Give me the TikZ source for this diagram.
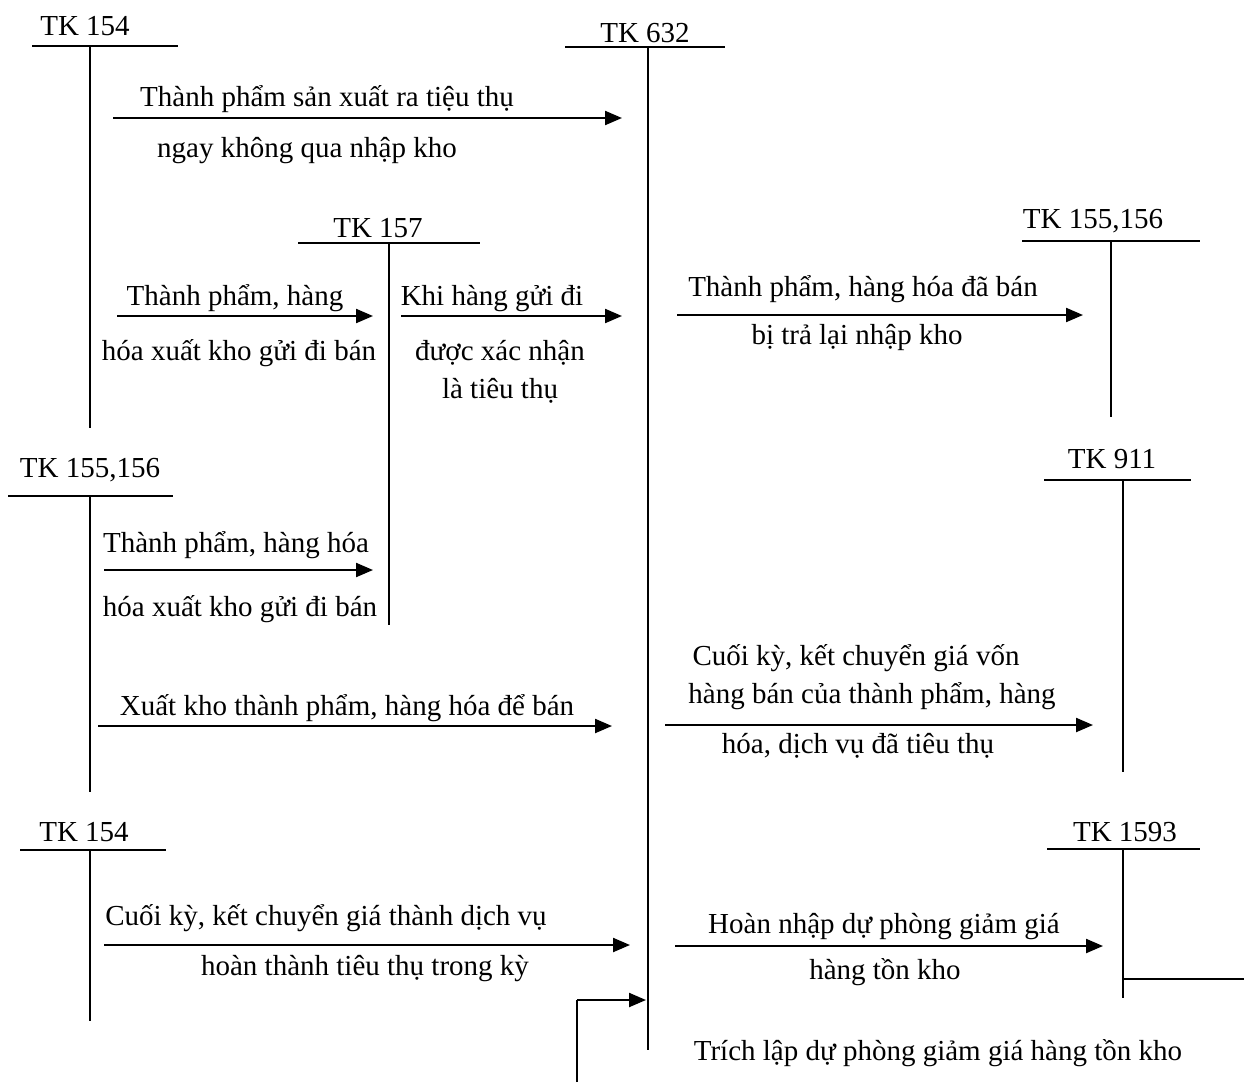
\documentclass[tikz,border=0pt]{standalone}
\usepackage{fontspec}
\setmainfont{Liberation Serif}
\usetikzlibrary{arrows.meta}
\begin{document}
\begin{tikzpicture}[x=1pt,y=-1pt,
  acct/.style={anchor=base,inner sep=0pt,font=\fontsize{29}{34}\selectfont},
  txt/.style={anchor=base,inner sep=0pt,font=\fontsize{29}{34}\selectfont},
  tline/.style={line width=2.2pt},
  flow/.style={line width=2.2pt,-{Triangle[length=17pt,width=14pt]}}]
\useasboundingbox (0,0) rectangle (1244,1090);

% ---------- T-accounts: title, top bar, vertical stem ----------
% TK 154 (upper)
\node[acct] (k154a) at (85,35) {TK 154};
\coordinate (k154aL) at (32,46);  \coordinate (k154aR) at (178,46);
\coordinate (k154aT) at (90,46);  \coordinate (k154aB) at (90,428);
\draw[tline] (k154aL) -- (k154aR);
\draw[tline] (k154aT) -- (k154aB);

% TK 632
\node[acct] (k632) at (645,42) {TK 632};
\coordinate (k632L) at (565,47);  \coordinate (k632R) at (725,47);
\coordinate (k632T) at (648,47);  \coordinate (k632B) at (648,1050);
\draw[tline] (k632L) -- (k632R);
\draw[tline] (k632T) -- (k632B);

% TK 157
\node[acct] (k157) at (378,237) {TK 157};
\coordinate (k157L) at (298,243); \coordinate (k157R) at (480,243);
\coordinate (k157T) at (389,243); \coordinate (k157B) at (389,625);
\draw[tline] (k157L) -- (k157R);
\draw[tline] (k157T) -- (k157B);

% TK 155,156 (right)
\node[acct] (k155r) at (1093,228) {TK 155,156};
\coordinate (k155rL) at (1022,241); \coordinate (k155rR) at (1200,241);
\coordinate (k155rT) at (1111,241); \coordinate (k155rB) at (1111,417);
\draw[tline] (k155rL) -- (k155rR);
\draw[line width=1.6pt] (k155rT) -- (k155rB);

% TK 155,156 (left)
\node[acct] (k155l) at (90,477) {TK 155,156};
\coordinate (k155lL) at (8,496);  \coordinate (k155lR) at (173,496);
\coordinate (k155lT) at (90,496); \coordinate (k155lB) at (90,792);
\draw[tline] (k155lL) -- (k155lR);
\draw[tline] (k155lT) -- (k155lB);

% TK 911
\node[acct] (k911) at (1112,468) {TK 911};
\coordinate (k911L) at (1044,480); \coordinate (k911R) at (1191,480);
\coordinate (k911T) at (1123,480); \coordinate (k911B) at (1123,772);
\draw[tline] (k911L) -- (k911R);
\draw[tline] (k911T) -- (k911B);

% TK 154 (lower)
\node[acct] (k154b) at (84,841) {TK 154};
\coordinate (k154bL) at (20,850);  \coordinate (k154bR) at (166,850);
\coordinate (k154bT) at (90,850);  \coordinate (k154bB) at (90,1021);
\draw[tline] (k154bL) -- (k154bR);
\draw[tline] (k154bT) -- (k154bB);

% TK 1593
\node[acct] (k1593) at (1125,841) {TK 1593};
\coordinate (k1593L) at (1047,849); \coordinate (k1593R) at (1200,849);
\coordinate (k1593T) at (1123,849); \coordinate (k1593B) at (1123,998);
\draw[tline] (k1593L) -- (k1593R);
\draw[tline] (k1593T) -- (k1593B);

% ---------- Flows ----------
% 154 -> 632
\coordinate (f1s) at (113,118); \coordinate (f1e) at (622,118);
\draw[flow] (f1s) -- (f1e);
\node[txt] (t1a) at (327,106) {Thành phẩm sản xuất ra tiệu thụ};
\node[txt] (t1b) at (307,157) {ngay không qua nhập kho};

% 154 -> 157
\coordinate (f2s) at (117,316); \coordinate (f2e) at (373,316);
\draw[flow] (f2s) -- (f2e);
\node[txt] (t2a) at (235,305) {Thành phẩm, hàng};
\node[txt] (t2b) at (239,360) {hóa xuất kho gửi đi bán};

% 157 -> 632
\coordinate (f3s) at (401,316); \coordinate (f3e) at (622,316);
\draw[flow] (f3s) -- (f3e);
\node[txt] (t3a) at (492,305) {Khi hàng gửi đi};
\node[txt] (t3b) at (500,360) {được xác nhận};
\node[txt] (t3c) at (500,398) {là tiêu thụ};

% 632 -> 155,156
\coordinate (f4s) at (677,315); \coordinate (f4e) at (1083,315);
\draw[flow] (f4s) -- (f4e);
\node[txt] (t4a) at (863,296) {Thành phẩm, hàng hóa đã bán};
\node[txt] (t4b) at (857,344) {bị trả lại nhập kho};

% 155,156 -> 157
\coordinate (f5s) at (104,570); \coordinate (f5e) at (373,570);
\draw[flow] (f5s) -- (f5e);
\node[txt] (t5a) at (236,552) {Thành phẩm, hàng hóa};
\node[txt] (t5b) at (240,616) {hóa xuất kho gửi đi bán};

% 155,156 -> 632
\coordinate (f6s) at (98,726); \coordinate (f6e) at (612,726);
\draw[flow] (f6s) -- (f6e);
\node[txt] (t6) at (347,715) {Xuất kho thành phẩm, hàng hóa để bán};

% 632 -> 911
\coordinate (f7s) at (665,725); \coordinate (f7e) at (1093,725);
\draw[flow] (f7s) -- (f7e);
\node[txt] (t7a) at (856,665) {Cuối kỳ, kết chuyển giá vốn};
\node[txt] (t7b) at (872,703) {hàng bán của thành phẩm, hàng};
\node[txt] (t7c) at (858,753) {hóa, dịch vụ đã tiêu thụ};

% 154 -> 632
\coordinate (f8s) at (104,945); \coordinate (f8e) at (630,945);
\draw[flow] (f8s) -- (f8e);
\node[txt] (t8a) at (326,925) {Cuối kỳ, kết chuyển giá thành dịch vụ};
\node[txt] (t8b) at (365,975) {hoàn thành tiêu thụ trong kỳ};

% 632 -> 1593
\coordinate (f9s) at (675,946); \coordinate (f9e) at (1103,946);
\draw[flow] (f9s) -- (f9e);
\node[txt] (t9a) at (884,933) {Hoàn nhập dự phòng giảm giá};
\node[txt] (t9b) at (885,979) {hàng tồn kho};

% 1593 -> 632 (provision set up)
\coordinate (f10a) at (1123,979); \coordinate (f10b) at (1244,979);
\draw[tline] (f10a) -- (f10b);
\coordinate (f10c) at (577,1082); \coordinate (f10d) at (577,1000);
\coordinate (f10e) at (646,1000);
\draw[tline] (f10c) -- (f10d);
\draw[flow] (f10d) -- (f10e);
\node[txt] (t10) at (938,1060) {Trích lập dự phòng giảm giá hàng tồn kho};
\end{tikzpicture}
\end{document}
